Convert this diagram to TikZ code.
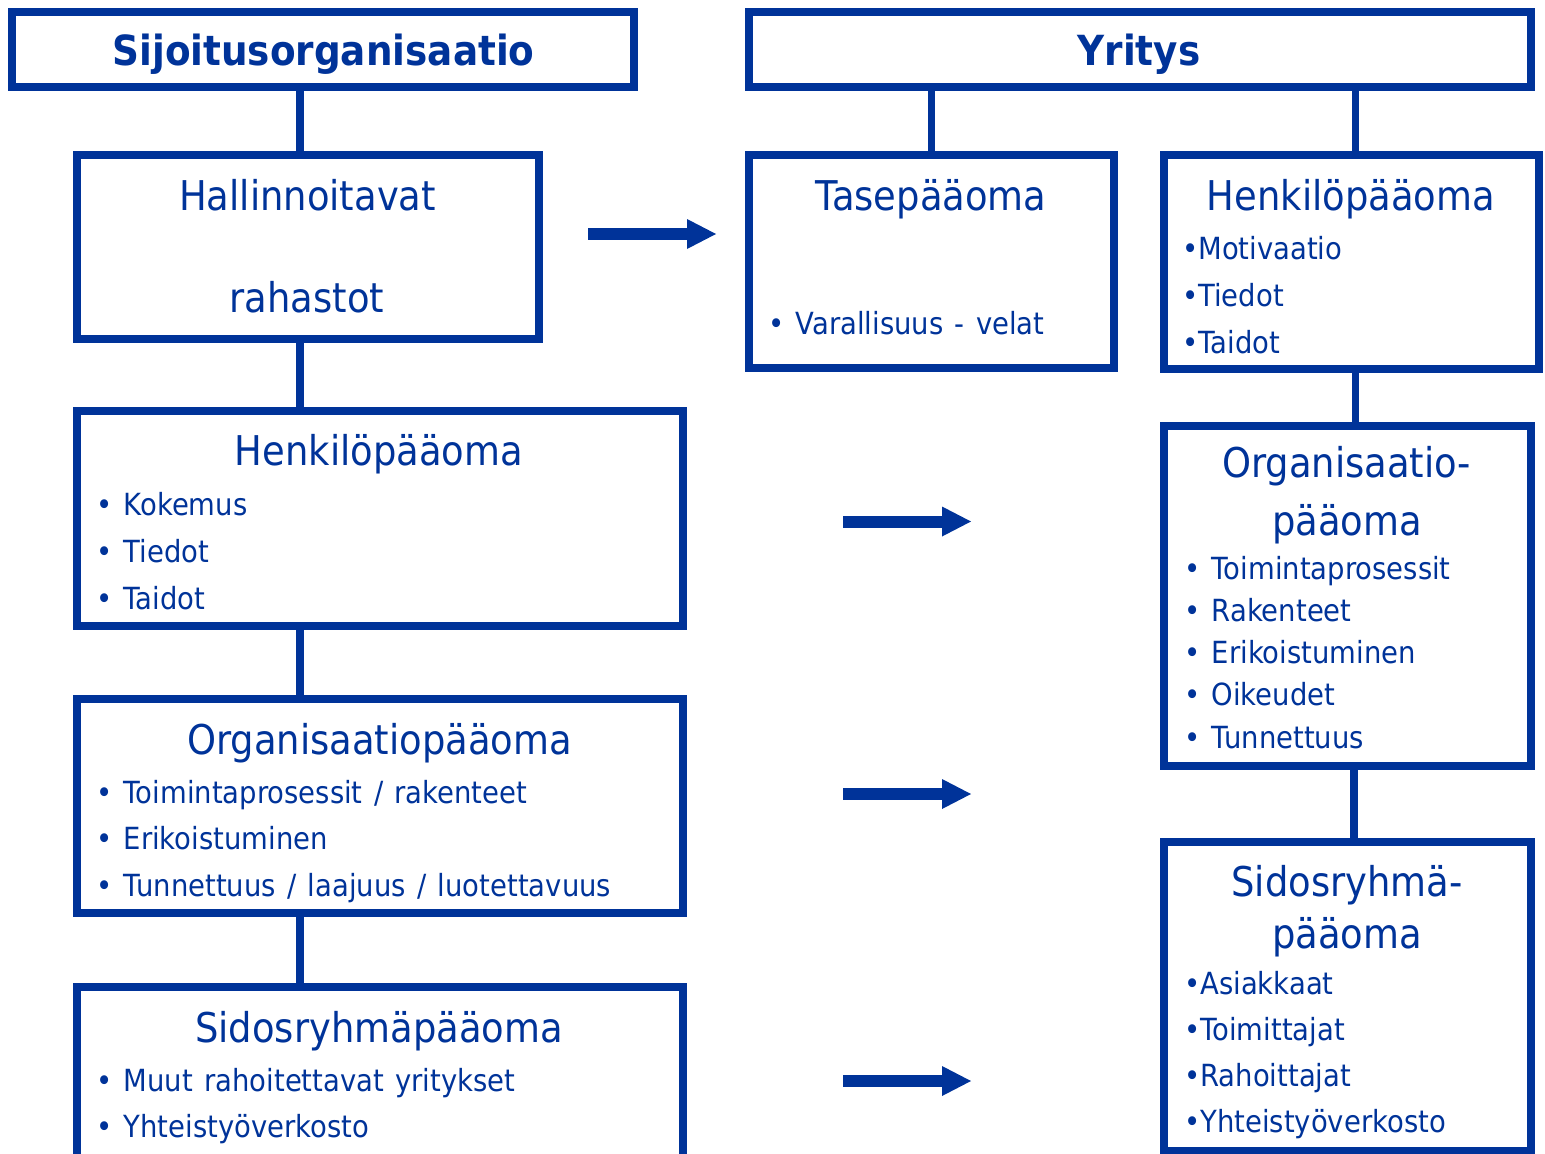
\documentclass[tikz,border=0pt]{standalone}
\usepackage{fontspec}
\setmainfont[FakeStretch=0.9]{DejaVu Sans}
\newfontfamily\itemfont[FakeStretch=0.9, WordSpace=1.3]{DejaVu Sans}
\usepackage{tikz}
\usetikzlibrary{arrows.meta, positioning}
\definecolor{deepblue}{RGB}{0, 51, 153}
\tikzset{
    box/.style={rectangle, draw=deepblue, line width=7.5pt, inner sep=0pt},
    link/.style={draw=deepblue, line width=7.5pt},
    flow/.style={draw=deepblue, line width=12pt, -{Triangle[length=29pt, width=30pt, line width=0pt]}},
    title/.style={font={\fontsize{41.5}{50}\selectfont\bfseries}, text=deepblue, anchor=base, inner sep=0pt},
    heading/.style={font={\fontsize{41}{50}\selectfont}, text=deepblue, anchor=base, inner sep=0pt},
    item/.style={font={\itemfont\fontsize{30.5}{36}\selectfont}, text=deepblue, anchor=base west, inner sep=0pt}
}
\begin{document}
\begin{tikzpicture}[x=1pt, y=-1pt]
        \useasboundingbox (0,0) rectangle (1545,1154);

        % Boxes
        \node [box, minimum width=622pt, minimum height=75pt] (sijoitus) at (323,49.5) {};
        \node [box, minimum width=782pt, minimum height=75pt] (yritys) at (1140,49.5) {};
        \node [box, minimum width=462pt, minimum height=184pt] (hallinn) at (308,247) {};
        \node [box, minimum width=606pt, minimum height=215pt] (henkL) at (380,518.5) {};
        \node [box, minimum width=606pt, minimum height=214pt] (orgL) at (380,806) {};
        \node [box, minimum width=606pt, minimum height=213pt] (sidosL) at (380,1093.5) {};
        \node [box, minimum width=365pt, minimum height=213pt] (tase) at (931.5,261.5) {};
        \node [box, minimum width=375pt, minimum height=214pt] (henkR) at (1351.5,262) {};
        \node [box, minimum width=367pt, minimum height=340pt] (orgR) at (1347.5,596) {};
        \node [box, minimum width=367pt, minimum height=309pt] (sidosR) at (1347.5,996.5) {};

        % Titles and headings
        \node [title] (sijoitusTxt) at (323.5,65) {Sijoitusorganisaatio};
        \node [title] (yritysTxt) at (1139,65) {Yritys};
        \node [heading] (hallinnTxt) at (307.5,210) {Hallinnoitavat};
        \node [heading] (hallinnTxt2) at (307,312) {rahastot};
        \node [heading] (taseTxt) at (931,210) {Tasepääoma};
        \node [heading] (henkRTxt) at (1351,210) {Henkilöpääoma};
        \node [heading] (henkLTxt) at (379,465) {Henkilöpääoma};
        \node [heading] (orgLTxt) at (379.5,754) {Organisaatiopääoma};
        \node [heading] (sidosLTxt) at (379,1042) {Sidosryhmäpääoma};
        \node [heading] (orgRTxt) at (1346.5,477) {Organisaatio-};
        \node [heading] (orgRTxt2) at (1347,535) {pääoma};
        \node [heading] (sidosRTxt) at (1347,896) {Sidosryhmä-};
        \node [heading] (sidosRTxt2) at (1347,948) {pääoma};

        % Bullet lists
        \node [item] (tase-1) at (768,334) {• Varallisuus - velat};
        \foreach \t [count=\i] in {Kokemus, Tiedot, Taidot}
            \node [item] (henkL-\i) at (96,{515+47*(\i-1)}) {• \t};
        \foreach \t [count=\i] in {Toimintaprosessit / rakenteet, Erikoistuminen, Tunnettuus / laajuus / luotettavuus}
            \node [item] (orgL-\i) at (96,{803+46.5*(\i-1)}) {• \t};
        \foreach \t [count=\i] in {Muut rahoitettavat yritykset, Yhteistyöverkosto}
            \node [item] (sidosL-\i) at (96,{1091+46*(\i-1)}) {• \t};
        \foreach \t [count=\i] in {Motivaatio, Tiedot, Taidot}
            \node [item] (henkR-\i) at (1182,{259+47*(\i-1)}) {•\t};
        \foreach \t [count=\i] in {Toimintaprosessit, Rakenteet, Erikoistuminen, Oikeudet, Tunnettuus}
            \node [item] (orgR-\i) at (1184,{579+42.3*(\i-1)}) {• \t};
        \foreach \t [count=\i] in {Asiakkaat, Toimittajat, Rahoittajat, Yhteistyöverkosto}
            \node [item] (sidosR-\i) at (1184,{994+46.3*(\i-1)}) {•\t};

        % Links
        \draw [link] ([xshift=-8pt]hallinn.north |- sijoitus.south) -- ([xshift=-8pt]hallinn.north);
        \draw [link] ([xshift=-8pt]hallinn.south) -- ([xshift=-80pt]henkL.north);
        \draw [link] ([xshift=-80pt]henkL.south) -- ([xshift=-80pt]orgL.north);
        \draw [link] ([xshift=-80pt]orgL.south) -- ([xshift=-80pt]sidosL.north);
        \draw [link] (tase.north |- yritys.south) -- (tase.north);
        \draw [link] ([xshift=4pt]henkR.north |- yritys.south) -- ([xshift=4pt]henkR.north);
        \draw [link] ([xshift=8pt]orgR.north |- henkR.south) -- ([xshift=8pt]orgR.north);
        \draw [link] ([xshift=6.5pt]orgR.south) -- ([xshift=6.5pt]sidosR.north);

        % Arrows
        \coordinate (a1s) at (588,234);
        \coordinate (a1e) at (716,234);
        \coordinate (a2s) at (843,521.5);
        \coordinate (a2e) at (971,521.5);
        \coordinate (a3s) at (843,794);
        \coordinate (a3e) at (971,794);
        \coordinate (a4s) at (843,1081);
        \coordinate (a4e) at (971,1081);
        \draw [flow] (a1s) -- (a1e);
        \draw [flow] (a2s) -- (a2e);
        \draw [flow] (a3s) -- (a3e);
        \draw [flow] (a4s) -- (a4e);

    \end{tikzpicture}
\end{document}
